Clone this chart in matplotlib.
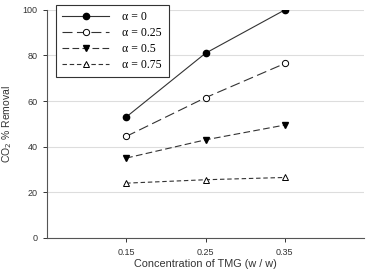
import matplotlib
matplotlib.use("Agg")
import matplotlib.pyplot as plt

plt.rcParams['font.family'] = ['Liberation Sans', 'DejaVu Sans']

# data
conc = [0.15, 0.25, 0.35]
alpha_labels = ["α = 0", "α = 0.25", "α = 0.5", "α = 0.75"]
a0 = [53, 81, 100]
a025 = [44.5, 61.5, 76.5]
a05 = [35, 43, 49.5]
a075 = [24, 25.5, 26.5]

fig = plt.figure(figsize=(3.66, 2.75), dpi=100)
ax = fig.add_axes([0.128, 0.135, 0.867, 0.829])

c = "#333333"
ax.plot(conc, a0, color=c, lw=0.8, ls="-", marker="o", ms=4.5, mfc="black", mec="black", label=alpha_labels[0])
ax.plot(conc, a025, color=c, lw=0.8, ls=(0, (9, 4)), marker="o", ms=4.5, mfc="white", mec="black", mew=0.7, label=alpha_labels[1])
ax.plot(conc, a05, color=c, lw=0.8, ls=(0, (6, 3)), marker="v", ms=4.5, mfc="black", mec="black", label=alpha_labels[2])
ax.plot(conc, a075, color=c, lw=0.8, ls=(0, (4, 2.5)), marker="^", ms=4.5, mfc="white", mec="black", mew=0.7, label=alpha_labels[3])

ax.set_xlim(0.05, 0.45)
ax.set_ylim(0, 100)
ax.set_xticks(conc)
ax.set_xticklabels(["0.15", "0.25", "0.35"])
ax.set_yticks([0, 20, 40, 60, 80, 100])
ax.yaxis.grid(True, color="#dddddd", lw=0.8)
ax.set_axisbelow(True)
ax.spines["top"].set_visible(False)
ax.spines["right"].set_visible(False)
ax.spines["left"].set_color("#555555")
ax.spines["bottom"].set_color("#555555")
ax.tick_params(labelsize=6.5, length=3, width=0.7, colors="#333333")
ax.tick_params(axis="x", pad=4)

ax.set_xlabel("Concentration of TMG (w / w)", fontsize=7.8, color="#333333", labelpad=2)
ax.set_ylabel(r"CO$_2$ % Removal", fontsize=7.5, color="#333333", labelpad=6)

leg = ax.legend(loc="upper left", bbox_to_anchor=(0.028, 1.022), borderaxespad=0,
                prop={"family": "Liberation Serif", "size": 8.5},
                fancybox=False, edgecolor="#333333", framealpha=1,
                handlelength=4.0, labelspacing=0.32, handletextpad=1.1, borderpad=0.55)
leg.get_frame().set_linewidth(0.8)

fig.savefig("out.png", dpi=100)
